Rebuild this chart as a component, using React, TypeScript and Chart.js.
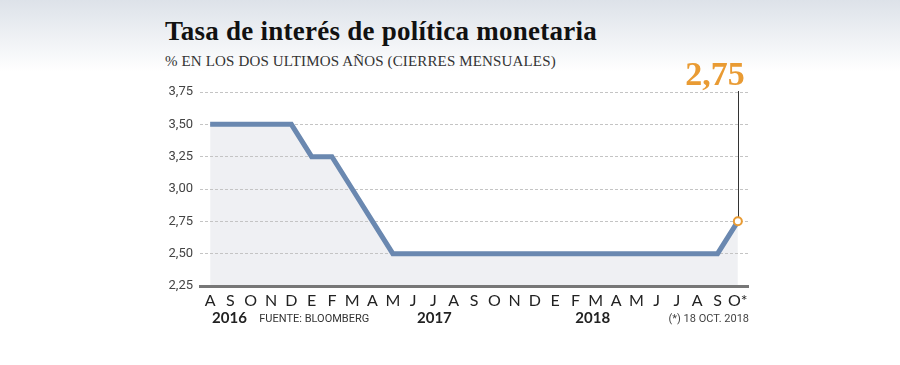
import React, { useEffect, useRef } from "react";
import { Chart, registerables } from "chart.js";

Chart.register(...registerables);

const months = ["A","S","O","N","D","E","F","M","A","M","J","J","A","S","O","N","D","E","F","M","A","M","J","J","A","S","O*"];
const rates = [3.5,3.5,3.5,3.5,3.5,3.25,3.25,3.0,2.75,2.5,2.5,2.5,2.5,2.5,2.5,2.5,2.5,2.5,2.5,2.5,2.5,2.5,2.5,2.5,2.5,2.5,2.75];
const yearLabels = ["2016", "2017", "2018"];
const yTicks = [2.25, 2.5, 2.75, 3.0, 3.25, 3.5, 3.75];
const lastValueLabel = "2,75";
const sourceText = "FUENTE: BLOOMBERG";
const noteText = "(*) 18 OCT. 2018";
const titleText = "Tasa de interés de política monetaria";
const subtitleText = "% EN LOS DOS ULTIMOS AÑOS (CIERRES MENSUALES)";

const LINE = "#6a88b0";
const ORANGE = "#e99b33";

const extrasPlugin = {
  id: "extras",
  afterDatasetsDraw(chart: any) {
    const ctx = chart.ctx;
    const x = chart.scales.x;
    const y = chart.scales.y;
    const last = rates.length - 1;
    const px = x.getPixelForValue(last);
    const py = y.getPixelForValue(rates[last]);
    ctx.save();
    // vertical leader line
    ctx.strokeStyle = "#333";
    ctx.lineWidth = 1;
    ctx.beginPath();
    ctx.moveTo(Math.round(px) + 0.5, y.getPixelForValue(3.75) - 1);
    ctx.lineTo(Math.round(px) + 0.5, py);
    ctx.stroke();
    // point marker
    ctx.beginPath();
    ctx.arc(px, py, 4, 0, Math.PI * 2);
    ctx.fillStyle = "#fff";
    ctx.fill();
    ctx.lineWidth = 2;
    ctx.strokeStyle = ORANGE;
    ctx.stroke();
    // value label
    ctx.fillStyle = ORANGE;
    ctx.font = "bold 34px 'Liberation Serif'";
    ctx.textAlign = "right";
    ctx.textBaseline = "alphabetic";
    ctx.fillText(lastValueLabel, px + 7, y.getPixelForValue(3.75) - 7);
    // year labels
    const yearIdx = [0.95, 11.05, 18.85];
    ctx.fillStyle = "#222";
    ctx.font = "bold 15px Lato";
    ctx.textAlign = "center";
    yearLabels.forEach((t, i) => {
      ctx.fillText(t, x.getPixelForValue(yearIdx[i]), 323);
    });
    ctx.fillStyle = "#333";
    ctx.font = "11px Roboto";
    ctx.textAlign = "left";
    ctx.fillText(sourceText, x.getPixelForValue(2.42), 322);
    ctx.fillStyle = "#444";
    ctx.textAlign = "right";
    ctx.fillText(noteText, chart.chartArea.right + 1, 322);
    ctx.restore();
  },
};

export default function App() {
  const ref = useRef<HTMLCanvasElement | null>(null);
  useEffect(() => {
    if (!ref.current) return;
    const chart = new Chart(ref.current, {
      type: "line",
      data: {
        labels: months,
        datasets: [
          {
            data: rates,
            borderColor: LINE,
            borderWidth: 5,
            pointRadius: 0,
            pointHoverRadius: 0,
            tension: 0,
            fill: "start",
            backgroundColor: "#eff0f3",
            borderJoinStyle: "miter",
          },
        ],
      },
      options: {
        animation: false,
        responsive: false,
        devicePixelRatio: 1,
        events: [],
        layout: { padding: { top: 92, right: 152, bottom: 0, left: 0 } },
        plugins: {
          legend: { display: false },
          tooltip: { enabled: false },
          filler: { drawTime: "beforeDraw" },
        },
        scales: {
          x: {
            type: "category",
            offset: true,
            grid: { display: false, drawTicks: false },
            border: { display: true, color: "#777", width: 3 },
            ticks: {
              color: "#222",
              font: { family: "Lato", size: 16 },
              padding: 5,
              autoSkip: false,
              maxRotation: 0,
            },
            afterFit: (s: any) => {
              s.height = 79;
            },
          },
          y: {
            min: 2.25,
            max: 3.75,
            afterBuildTicks: (s: any) => {
              s.ticks = yTicks.map((v) => ({ value: v }));
            },
            grid: { color: "#c4c4c4", lineWidth: 1, drawTicks: false },
            border: { display: false, dash: [3, 2] },
            ticks: {
              color: "#444",
              font: { family: "Roboto", size: 13 },
              padding: 7,
              callback: (v: any) => Number(v).toFixed(2).replace(".", ","),
            },
            afterFit: (s: any) => {
              s.width = 200;
            },
          },
        },
      },
      plugins: [extrasPlugin],
    });
    return () => chart.destroy();
  }, []);

  return (
    <div
      style={{
        position: "absolute",
        left: 0,
        top: 0,
        width: 900,
        height: 365,
        background: "linear-gradient(to bottom, #dde2e9 0px, #ffffff 72px)",
        overflow: "hidden",
      }}
    >
      <div
        style={{
          position: "absolute",
          left: 165,
          top: 16,
          fontFamily: "'Liberation Serif', serif",
          fontWeight: "bold",
          fontSize: 27,
          letterSpacing: "0.25px",
          color: "#111",
          whiteSpace: "nowrap",
          lineHeight: "30px",
        }}
      >
        {titleText}
      </div>
      <div
        style={{
          position: "absolute",
          left: 165,
          top: 52,
          fontFamily: "'Liberation Serif', serif",
          fontSize: 15,
          letterSpacing: "0.15px",
          color: "#333",
          whiteSpace: "nowrap",
          lineHeight: "18px",
        }}
      >
        {subtitleText}
      </div>
      <canvas ref={ref} width={900} height={365} style={{ position: "absolute", left: 0, top: 0 }} />
    </div>
  );
}
